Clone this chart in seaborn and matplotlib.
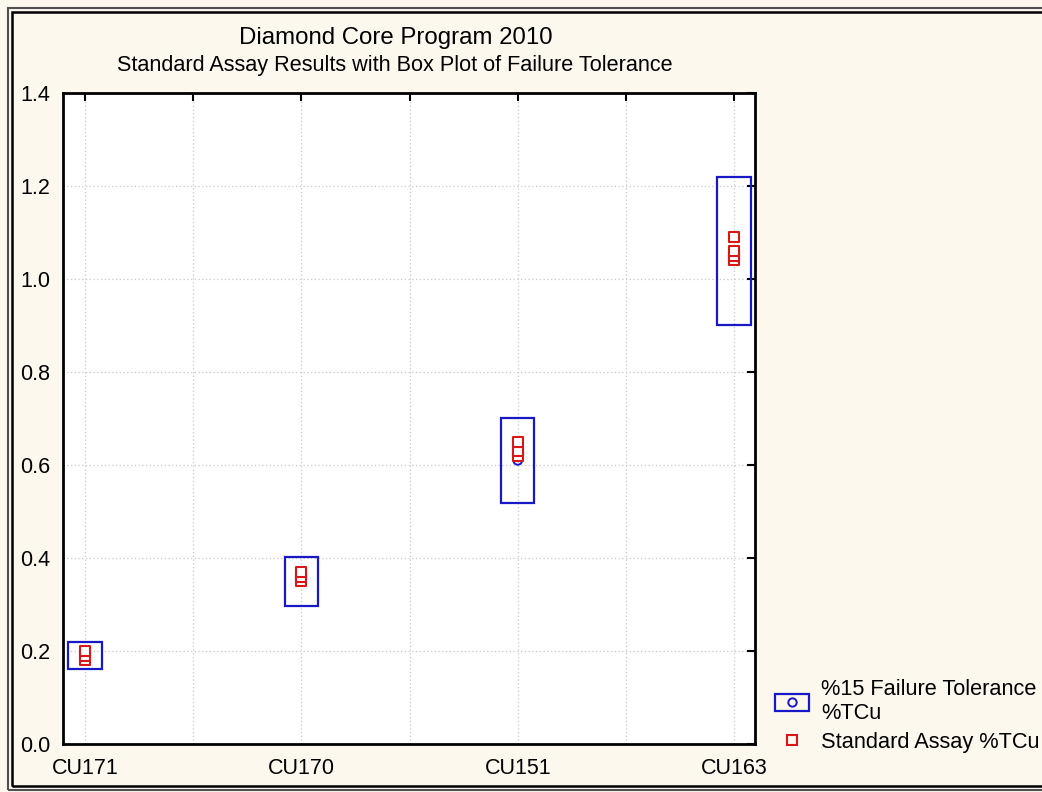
import pandas as pd
import seaborn as sns
import matplotlib.pyplot as plt
import numpy as np
from matplotlib.patches import Rectangle
from matplotlib.lines import Line2D

# values
holes = ["CU171", "CU170", "CU151", "CU163"]
tol_mean = [0.19, 0.35, 0.61, 1.06]
tol_low = [0.161, 0.297, 0.519, 0.901]
tol_high = [0.219, 0.403, 0.702, 1.219]

assay_hole = ["CU171", "CU171", "CU171",
              "CU170", "CU170", "CU170",
              "CU151", "CU151", "CU151",
              "CU163", "CU163", "CU163", "CU163"]
assay_value = [0.18, 0.19, 0.20,
               0.35, 0.36, 0.37,
               0.62, 0.63, 0.65,
               1.04, 1.05, 1.06, 1.09]

y_ticks = [0.0, 0.2, 0.4, 0.6, 0.8, 1.0, 1.2, 1.4]

BLUE = "#1818c8"
RED = "#d81818"
CREAM = "#fcf8ee"

sns.set_style("white")
plt.rcParams['font.family'] = ['Liberation Sans', 'DejaVu Sans']
plt.rcParams['text.color'] = 'black'

pos = {h: i for i, h in enumerate(holes)}
df_tol = pd.DataFrame({"hole": holes, "mean": tol_mean, "low": tol_low, "high": tol_high})
df_tol["x"] = df_tol["hole"].map(pos)
df_assay = pd.DataFrame({"hole": assay_hole, "value": assay_value})
df_assay["x"] = df_assay["hole"].map(pos)

fig = plt.figure(figsize=(10.42, 7.92), dpi=100, facecolor=CREAM)
ax = fig.add_axes([0.0605, 0.0606, 0.6641, 0.822])
ax.set_facecolor("white")

# tolerance boxes (min-max of the 15% band)
ax.bar(df_tol["x"], df_tol["high"] - df_tol["low"], bottom=df_tol["low"], width=0.155,
       fill=False, edgecolor=BLUE, linewidth=1.6, zorder=3)
sns.scatterplot(data=df_tol, x="x", y="mean", ax=ax, marker="o", s=40,
                facecolor="none", edgecolor=BLUE, linewidth=1.4, zorder=4, legend=False)
sns.scatterplot(data=df_assay, x="x", y="value", ax=ax, marker="s", s=55,
                facecolor="white", edgecolor=RED, linewidth=1.5, zorder=5, legend=False)

ax.set_xlim(-0.102, 3.097)
ax.set_ylim(0, 1.4)
ax.set_xticks(range(len(holes)))
ax.set_xticklabels(holes)
ax.set_xticks([0.5, 1.5, 2.5], minor=True)
ax.set_yticks(y_ticks)
ax.set_yticklabels([f"{v:.1f}" for v in y_ticks])
ax.set_xlabel("")
ax.set_ylabel("")

ax.grid(True, which="both", color="#c8c8c8", linestyle=(0, (1, 2)), linewidth=0.9)
ax.tick_params(which="both", direction="in", length=6, width=1.5, top=True, right=True,
               labelsize=15.5, colors="black")
ax.tick_params(axis="x", which="major", pad=10)
ax.tick_params(axis="y", which="major", pad=9)
for s in ax.spines.values():
    s.set_linewidth(2)
    s.set_color("black")

fig.text(396 / 1042, 1 - 38 / 792, "Diamond Core Program 2010", ha="center", va="center",
         fontsize=17.3, color="black")
fig.text(395 / 1042, 1 - 65 / 792, "Standard Assay Results with Box Plot of Failure Tolerance",
         ha="center", va="center", fontsize=15.6, color="black")

# legend
box_h = Rectangle((0, 0), 1, 1, fill=False, edgecolor=BLUE, linewidth=1.6)
circ_h = Line2D([], [], linestyle="none", marker="o", markersize=6, markerfacecolor="none",
                markeredgecolor=BLUE, markeredgewidth=1.4)
sq_h = Line2D([], [], linestyle="none", marker="s", markersize=7, markerfacecolor="none",
              markeredgecolor=RED, markeredgewidth=1.5)
fig.legend([(box_h, circ_h), sq_h], ["%15 Failure Tolerance\n%TCu", "Standard Assay %TCu"],
           loc="lower left", bbox_to_anchor=(775 / 1042, 1 - 753 / 792), frameon=False,
           fontsize=15.7, handlelength=1.55, handleheight=0.8, handletextpad=0.55,
           labelspacing=0.35, borderpad=0, borderaxespad=0)

# double frame around the figure
fig.patches.append(Rectangle((8 / 1042, 2 / 792), 1.2, 1 - 10 / 792, transform=fig.transFigure,
                             fill=False, edgecolor="#505050", linewidth=1.5))
fig.patches.append(Rectangle((12 / 1042, 6 / 792), 1.2, 1 - 18 / 792, transform=fig.transFigure,
                             fill=False, edgecolor="black", linewidth=1.8))

fig.savefig("out.png", dpi=100, facecolor=CREAM)
